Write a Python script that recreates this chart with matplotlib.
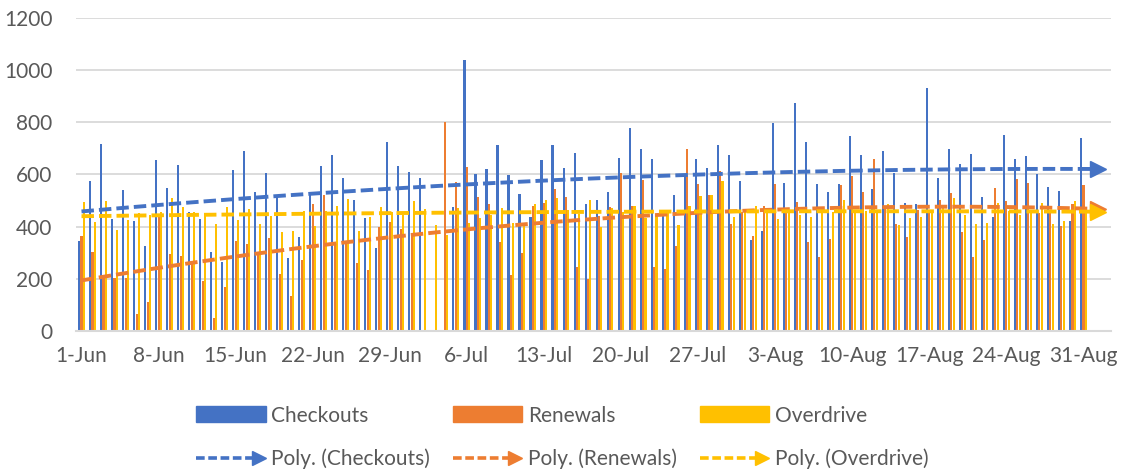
import matplotlib
matplotlib.use('Agg')
import matplotlib.pyplot as plt
import numpy as np
from matplotlib.lines import Line2D
from matplotlib.patches import Patch
from matplotlib.legend_handler import HandlerBase

# daily counts, 1-Jun .. 31-Aug
checkouts = [344, 574, 718, 431, 542, 422, 326, 655, 549, 638, 458, 431,
             301, 264, 619, 690, 532, 606, 513, 278, 360, 522, 632, 674,
             587, 501, 433, 317, 724, 632, 610, 587, 0, 0, 476, 1038,
             600, 622, 713, 597, 527, 437, 654, 713, 626, 683, 485, 501,
             533, 664, 779, 696, 660, 442, 523, 600, 660, 626, 715, 673,
             574, 350, 382, 799, 568, 873, 724, 565, 532, 562, 747,
             674, 545, 690, 606, 491, 487, 933, 587, 696, 642, 677, 513,
             437, 750, 661, 670, 600, 551, 535, 420, 741]
renewals = [363, 301, 209, 203, 203, 65, 113, 437, 296, 286, 258, 190,
            49, 167, 344, 333, 300, 356, 219, 136, 273, 488, 523, 337,
            337, 260, 235, 399, 417, 391, 369, 0, 0, 801, 570, 629,
            513, 488, 340, 213, 299, 478, 491, 545, 513, 245, 199, 442,
            476, 606, 478, 578, 244, 238, 324, 699, 562, 523, 613, 412,
            455, 365, 478, 562, 465, 494, 340, 282, 353, 558, 594,
            532, 658, 468, 410, 359, 465, 465, 504, 529, 379, 282, 347,
            549, 497, 581, 568, 452, 452, 404, 485, 558]
overdrive = [495, 418, 497, 388, 427, 452, 445, 455, 510, 476, 456, 440,
             412, 474, 427, 469, 410, 442, 381, 385, 459, 404, 459, 481,
             506, 385, 437, 476, 456, 446, 497, 468, 407, 369, 471, 414,
             433, 446, 472, 414, 408, 485, 501, 510, 465, 450, 504, 399,
             472, 455, 481, 433, 446, 452, 408, 481, 517, 523, 574, 437,
             465, 478, 459, 431, 463, 446, 437, 468, 455, 504, 465,
             459, 459, 487, 408, 433, 437, 465, 478, 510, 443, 410, 414,
             491, 459, 446, 452, 491, 410, 423, 500, 459]

tick_labels = ['1-Jun', '8-Jun', '15-Jun', '22-Jun', '29-Jun', '6-Jul', '13-Jul',
               '20-Jul', '27-Jul', '3-Aug', '10-Aug', '17-Aug', '24-Aug', '31-Aug']

names = ['Checkouts', 'Renewals', 'Overdrive']
colors = ['#4472C4', '#ED7D31', '#FFC000']
series = [checkouts, renewals, overdrive]

plt.rcParams['font.family'] = ['Lato', 'DejaVu Sans']
txt = '#595959'


class ArrowHandler(HandlerBase):
    def create_artists(self, legend, orig_handle, xdescent, ydescent,
                       width, height, fontsize, trans):
        c = orig_handle.get_color()
        y = height / 2 - ydescent
        x0 = -xdescent
        x1 = width - xdescent
        line = Line2D([x0, x1 - 7], [y, y], color=c, lw=2.6, dashes=(2.4, 1.0))
        head = Line2D([x1 - 5], [y], marker='>', ms=10, color=c, lw=0)
        line.set_transform(trans)
        head.set_transform(trans)
        return [line, head]


fig = plt.figure(figsize=(11.24, 4.76), dpi=100)
ax = fig.add_axes([76 / 1124, 1 - 331 / 476, (1111 - 76) / 1124, (331 - 18) / 476])

x = np.arange(len(checkouts))
w = 0.19
offsets = [-0.22, 0.0, 0.22]
for vals, c, off in zip(series, colors, offsets):
    ax.bar(x + off, vals, w, color=c, linewidth=0)

handles = []
handler_map = {}
for vals, c, n in zip(series, colors, names):
    p = np.polyfit(x, vals, 2)
    xt = np.linspace(0, 92, 200)
    ax.plot(xt, np.polyval(p, xt), color=c, lw=2.8, dashes=(3.2, 1.3), zorder=3)
    ax.plot([92.3], [np.polyval(p, 92.3)], marker='>', ms=12, color=c, lw=0, zorder=3)
    arrow = Line2D([], [], color=c)
    handler_map[arrow] = ArrowHandler()
    handles += [Patch(color=c), arrow]

labels = []
for n in names:
    labels += [n, 'Poly. (%s)' % n]

ax.set_xlim(-0.5, 93.5)
ax.set_ylim(0, 1200)
ax.set_yticks(range(0, 1201, 200))
ax.set_xticks(range(0, 92, 7))
ax.set_xticklabels(tick_labels)
ax.yaxis.grid(True, color='#d9d9d9', lw=1.3)
ax.set_axisbelow(True)
for s in ['top', 'right', 'left']:
    ax.spines[s].set_visible(False)
ax.spines['bottom'].set_color('#d9d9d9')
ax.spines['bottom'].set_linewidth(1.5)
ax.tick_params(axis='x', length=0, labelsize=15, colors=txt, pad=11)
ax.tick_params(axis='y', length=0, labelsize=15, colors=txt, pad=17)

fig.legend(handles, labels, ncol=3, loc='center', bbox_to_anchor=(0.5, 0.081),
           frameon=False, fontsize=15, handlelength=3.35, handleheight=0.8,
           handletextpad=0.25, columnspacing=1.1, labelspacing=1.1,
           handler_map=handler_map, labelcolor=txt)

fig.savefig('out.png', dpi=100)
